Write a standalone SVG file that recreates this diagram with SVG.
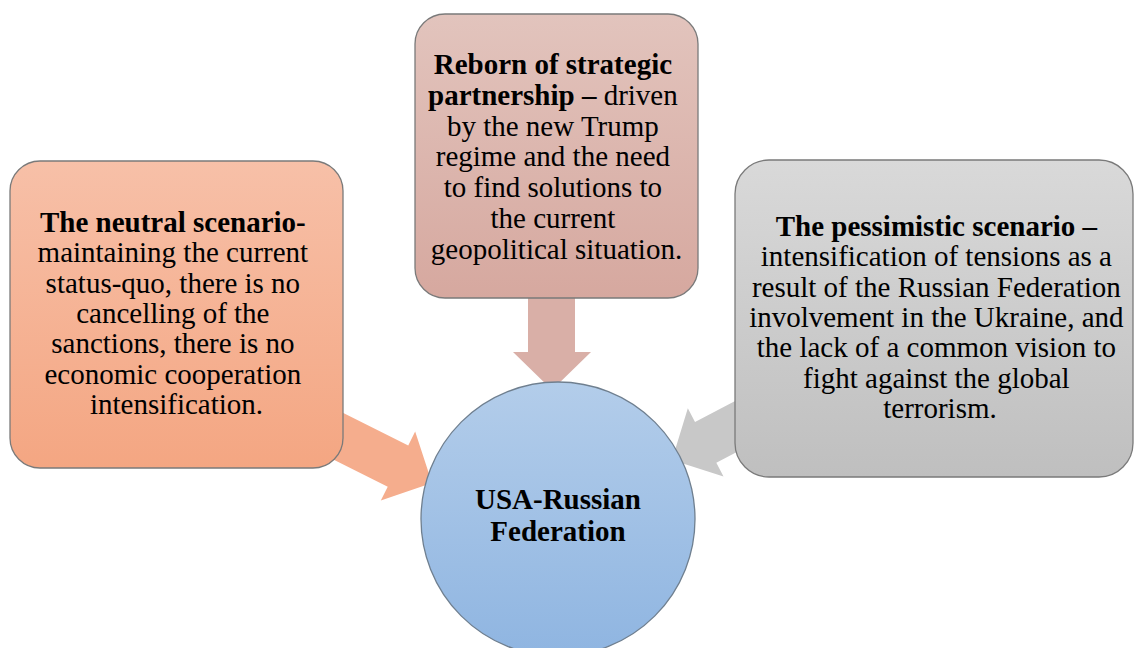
<svg xmlns="http://www.w3.org/2000/svg" width="1134" height="648" viewBox="0 0 1134 648">
  <defs>
    <linearGradient id="gOrange" x1="0" y1="0" x2="0" y2="1">
      <stop offset="0" stop-color="#f7c0a8"/>
      <stop offset="1" stop-color="#f4a682"/>
    </linearGradient>
    <linearGradient id="gRose" x1="0" y1="0" x2="0" y2="1">
      <stop offset="0" stop-color="#e2c4bd"/>
      <stop offset="1" stop-color="#d6a89f"/>
    </linearGradient>
    <linearGradient id="gGray" x1="0" y1="0" x2="0" y2="1">
      <stop offset="0" stop-color="#d9d9d9"/>
      <stop offset="1" stop-color="#bfbfbf"/>
    </linearGradient>
    <linearGradient id="gBlue" x1="0" y1="0" x2="0" y2="1">
      <stop offset="0" stop-color="#b3cdea"/>
      <stop offset="1" stop-color="#8fb5e1"/>
    </linearGradient>
    <linearGradient id="gArrowO" x1="0" y1="0" x2="0" y2="1">
      <stop offset="0" stop-color="#f5b498"/>
      <stop offset="1" stop-color="#f4a47f"/>
    </linearGradient>
    <polygon id="arrowShape" points="-115,-23 -38,-23 -38,-38.5 0,0 -38,38.5 -38,23 -115,23"/>
  </defs>
  <style>
    .box { stroke: #7a7a7a; stroke-width: 1.3; }
    .txt { font-family: "Liberation Serif", "Times New Roman", serif; font-size: 29px; fill: #000; text-anchor: middle; }
    .b { font-weight: bold; }
  </style>

  <g id="connectors">
    <use href="#arrowShape" fill="#f5ad8d" transform="translate(432,483) rotate(26.5)"/>
    <polygon fill="#d9afa7" points="528,290 575,290 575,352 591,352 552,390 513,352 528,352"/>
    <use href="#arrowShape" fill="#c8c8c8" transform="translate(672,460) rotate(152.4)"/>
  </g>

  <g id="node-center">
    <circle cx="558" cy="519" r="137" fill="url(#gBlue)" stroke="#6f7f8f" stroke-width="1.3"/>
    <text class="txt b" x="558" y="509">USA-Russian</text>
    <text class="txt b" x="558" y="541">Federation</text>
  </g>

  <g id="node-neutral">
    <rect class="box" x="10" y="161" width="333" height="307" rx="30" ry="30" fill="url(#gOrange)"/>
    <text class="txt" x="176.5">
      <tspan class="b" x="176.5" y="232">The neutral scenario-</tspan>
      <tspan x="176.5" y="262.3">maintaining the current</tspan>
      <tspan x="176.5" y="292.6">status-quo, there is no</tspan>
      <tspan x="176.5" y="322.9">cancelling of the</tspan>
      <tspan x="176.5" y="353.2">sanctions, there is no</tspan>
      <tspan x="176.5" y="383.5">economic cooperation</tspan>
      <tspan x="176.5" y="413.8">intensification.</tspan>
    </text>
  </g>

  <g id="node-reborn">
    <rect class="box" x="415" y="14" width="283" height="284" rx="30" ry="30" fill="url(#gRose)"/>
    <text class="txt" x="556.5">
      <tspan class="b" x="556.5" y="74">Reborn of strategic</tspan>
      <tspan x="556.5" y="104.8"><tspan class="b">partnership –</tspan> driven</tspan>
      <tspan x="556.5" y="135.6">by the new Trump</tspan>
      <tspan x="556.5" y="166.4">regime and the need</tspan>
      <tspan x="556.5" y="197.2">to find solutions to</tspan>
      <tspan x="556.5" y="228">the current</tspan>
      <tspan x="556.5" y="258.8">geopolitical situation.</tspan>
    </text>
  </g>

  <g id="node-pessimistic">
    <rect class="box" x="735" y="160" width="398" height="317" rx="34" ry="34" fill="url(#gGray)"/>
    <text class="txt" x="940">
      <tspan class="b" x="940" y="236">The pessimistic scenario –</tspan>
      <tspan x="940" y="266.3">intensification of tensions as a</tspan>
      <tspan x="940" y="296.6">result of the Russian Federation</tspan>
      <tspan x="940" y="326.9">involvement in the Ukraine, and</tspan>
      <tspan x="940" y="357.2">the lack of a common vision to</tspan>
      <tspan x="940" y="387.5">fight against the global</tspan>
      <tspan x="940" y="417.8">terrorism.</tspan>
    </text>
  </g>
</svg>
